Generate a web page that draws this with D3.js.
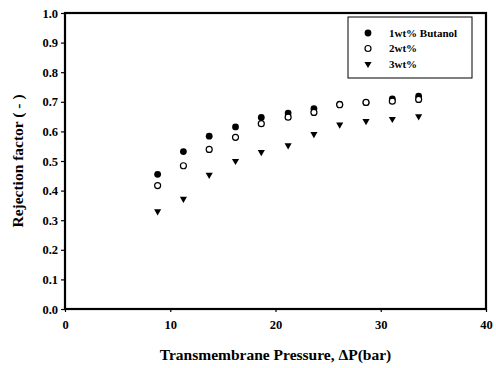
<!DOCTYPE html>
<html>
<head>
<meta charset="utf-8">
<script src="https://cdn.jsdelivr.net/npm/d3@7"></script>
<style>
  body { margin: 0; background: #fff; }
  text { font-family: "Liberation Serif", "Times New Roman", serif; font-weight: bold; }
</style>
</head>
<body>
<div id="chart"></div>
<script>
const pressure = [8.8, 11.25, 13.7, 16.2, 18.65, 21.2, 23.65, 26.1, 28.6, 31.1, 33.6];
const butanol1 = [0.455, 0.532, 0.584, 0.615, 0.647, 0.662, 0.677, 0.692, 0.697, 0.710, 0.719];
const butanol2 = [0.417, 0.484, 0.539, 0.580, 0.626, 0.648, 0.664, 0.690, 0.698, 0.702, 0.708];
const butanol3 = [0.330, 0.372, 0.453, 0.500, 0.530, 0.553, 0.591, 0.623, 0.635, 0.642, 0.651];
const seriesNames = ['1wt% Butanol', '2wt%', '3wt%'];
const xTicks = [0, 10, 20, 30, 40];
const yTicks = [0, 0.1, 0.2, 0.3, 0.4, 0.5, 0.6, 0.7, 0.8, 0.9, 1.0];

const width = 496;
const height = 368;
const margin = {left: 65, right: 10, top: 13, bottom: 59};

const svg = d3.select('#chart')
  .append('svg')
  .attr('width', width)
  .attr('height', height);

const x = d3.scaleLinear().domain([0, 40]).range([margin.left, width - margin.right]);
const y = d3.scaleLinear().domain([0, 1]).range([height - margin.bottom, margin.top]);

// axes
const axisY = d3.axisLeft(y).tickValues(yTicks).tickSize(4).tickPadding(3).tickFormat(d3.format('.1f'));
const gy = svg.append('g')
  .attr('transform', `translate(${margin.left},0)`)
  .call(axisY);

const axisX = d3.axisBottom(x).tickValues(xTicks).tickSize(3).tickPadding(8).tickFormat(d3.format('d'));
const gx = svg.append('g')
  .attr('transform', `translate(0,${height - margin.bottom})`)
  .call(axisX);

[gx, gy].forEach(g => {
  g.attr('font-family', null);
  g.select('.domain').remove();
  g.selectAll('.tick line').attr('stroke', '#000').attr('stroke-width', 1.2);
  g.selectAll('.tick text').attr('font-size', 12.5).attr('fill', '#000');
});

// frame
svg.append('rect')
  .attr('x', x(0))
  .attr('y', y(1))
  .attr('width', x(40) - x(0))
  .attr('height', y(0) - y(1))
  .attr('fill', 'none')
  .attr('stroke', '#000')
  .attr('stroke-width', 2.2);

// titles
svg.append('text')
  .attr('x', (x(0) + x(40)) / 2)
  .attr('y', 360)
  .attr('text-anchor', 'middle')
  .attr('font-size', 15.5)
  .text('Transmembrane Pressure, ΔP(bar)');

svg.append('text')
  .attr('transform', `translate(23,${(y(0) + y(1)) / 2}) rotate(-90)`)
  .attr('text-anchor', 'middle')
  .attr('font-size', 15.5)
  .text('Rejection factor ( - )');

// markers
const tri = d3.symbol().type(d3.symbolTriangle).size(22);

function drawMarker(g, kind, cx, cy) {
  if (kind === 2) {
    g.append('path')
      .attr('d', tri())
      .attr('transform', `translate(${cx},${cy}) rotate(180)`)
      .attr('fill', '#000');
  } else {
    g.append('circle')
      .attr('cx', cx)
      .attr('cy', cy)
      .attr('r', kind === 0 ? 3.4 : 3)
      .attr('fill', kind === 0 ? '#000' : '#fff')
      .attr('stroke', '#000')
      .attr('stroke-width', kind === 0 ? 0 : 1.2);
  }
}

const series = [butanol1, butanol2, butanol3];
const points = svg.append('g');
series.forEach((vals, k) => {
  vals.forEach((v, i) => drawMarker(points, k, x(pressure[i]), y(v)));
});

// legend
const legend = svg.append('g');
legend.append('rect')
  .attr('x', 348)
  .attr('y', 17)
  .attr('width', 124)
  .attr('height', 61)
  .attr('fill', '#fff')
  .attr('stroke', '#000')
  .attr('stroke-width', 1);

seriesNames.forEach((name, k) => {
  const ly = 33 + k * 15.5;
  drawMarker(legend, k, 368, ly);
  legend.append('text')
    .attr('x', 389)
    .attr('y', ly + 3.5)
    .attr('font-size', 11)
    .text(name);
});
</script>
</body>
</html>
